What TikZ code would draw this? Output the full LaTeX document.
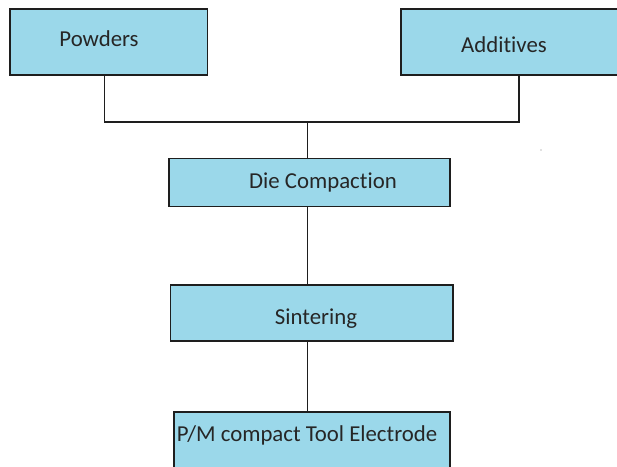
\documentclass[tikz,border=0pt]{standalone}
\usepackage{fontspec}
\setmainfont[Ligatures=CommonOff]{Carlito}
\usetikzlibrary{calc}
\definecolor{boxfill}{RGB}{155,216,234}
\definecolor{edge}{RGB}{30,30,30}
\begin{document}
\begin{tikzpicture}[x=1pt,y=-1pt,
  stagebox/.style={draw=edge, line width=1.4pt, fill=boxfill, rectangle, inner sep=0pt},
  caption/.style={font=\fontsize{22.8}{27}\selectfont, text=black!85, inner sep=0pt, anchor=base},
  link/.style={draw=edge, line width=1.6pt}]
\useasboundingbox (0,0) rectangle (617,466);
\fill[white] (0,0) rectangle (617,466);

% process stages
\node[stagebox, minimum width=197.7pt, minimum height=66pt] (pow) at (108.8,42) {};
\node[stagebox, minimum width=236pt, minimum height=66pt] (add) at (519,42) {};
\node[stagebox, minimum width=281pt, minimum height=48.4pt] (die) at (309.5,182.5) {};
\node[stagebox, minimum width=282.3pt, minimum height=56pt] (sint) at (311.8,313) {};
\node[stagebox, minimum width=276pt, minimum height=68pt] (pm) at (312,446) {};

% stage labels
\node[caption] (powt) at (99,46) {Powders};
\node[caption] (addt) at (504,52) {Additives};
\node[caption] (diet) at (323,188.3) {Die Compaction};
\node[caption] (sintt) at (316,324) {Sintering};
\node[caption] (pmt) at (307,441) {P/M compact Tool Electrode};

% connectors
\coordinate (j) at (307.3,121.7);
\draw[link] ([xshift=-4.5pt]pow.south) |- (j) -| (add.south);
\draw[link] (j) -- (j |- die.north);
\draw[link] (j |- die.south) -- (j |- sint.north);
\draw[link] (j |- sint.south) -- (j |- pm.north);

\fill[gray] (541,150) circle (0.7pt);
\end{tikzpicture}
\end{document}
